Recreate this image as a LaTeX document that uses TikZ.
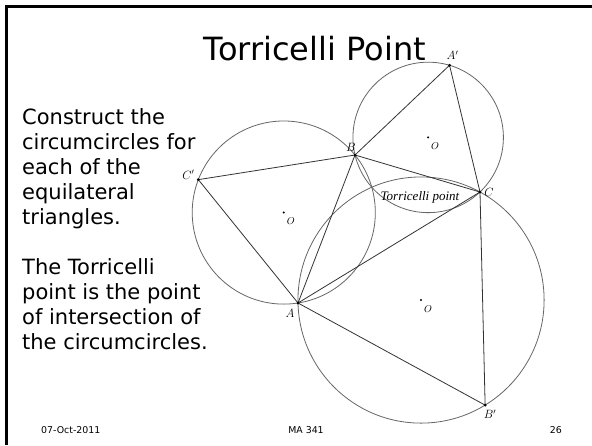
\documentclass[tikz,border=0pt]{standalone}
\usepackage{fontspec}
\setmainfont{DejaVu Sans}
\newfontfamily\labfont{Liberation Serif}
\usetikzlibrary{calc,through}
\begin{document}
\begin{tikzpicture}[x=1pt,y=-1pt,
  tri/.style={draw=black!80, line width=0.8pt},
  circ/.style={draw=black!60, line width=0.8pt, circle through=#1, inner sep=0pt, outer sep=0pt},
  dot/.style={circle, fill=black, inner sep=0pt, minimum size=3pt},
  odot/.style={circle, fill=black, inner sep=0pt, minimum size=2.2pt},
  lab/.style={font=\fontsize{12}{12}\selectfont, inner sep=0pt},
  olab/.style={font=\fontsize{10}{10}\selectfont, inner sep=0pt},
  body/.style={anchor=base west, font=\fontsize{21}{21}\selectfont, inner sep=0pt},
  foot/.style={font=\fontsize{9.4}{9.4}\selectfont, inner sep=0pt}]
\useasboundingbox (0,0) rectangle (592,445);
\fill[white] (0,0) rectangle (592,445);
\draw[line width=2.5pt] (6.5,445) -- (6.5,6.5) -- (592,6.5);

% triangle ABC and equilateral points
\coordinate (A) at (298,303);
\coordinate (B) at (355,155);
\coordinate (C) at (480,192);
\coordinate (Ap) at ($(B)!1!60:(C)$);
\coordinate (Bp) at ($(C)!1!60:(A)$);
\coordinate (Cp) at ($(A)!1!60:(B)$);
\coordinate (O1) at (barycentric cs:B=1,C=1,Ap=1);
\coordinate (O2) at (barycentric cs:A=1,B=1,Cp=1);
\coordinate (O3) at (barycentric cs:A=1,C=1,Bp=1);

% circumcircles
\node[circ=(B)] (c1) at (O1) {};
\node[circ=(A)] (c2) at (O2) {};
\node[circ=(A)] (c3) at (O3) {};

% triangles
\draw[tri] (Cp) -- (B) -- (Ap) -- (C) -- (Bp) -- (A) -- cycle;
\draw[tri] (A) -- (B) -- (C) -- cycle;

% dots
\foreach \p in {A,B,C,Ap,Bp,Cp} \node[dot] (d\p) at (\p) {};
\foreach \p in {O1,O2,O3} \node[odot] (d\p) at (\p) {};

% labels
\node[lab] (lA) at ($(A)+(-8,10)$) {$A$};
\node[lab] (lB) at ($(B)+(-4,-8)$) {$B$};
\node[lab] (lC) at ($(C)+(9,0)$) {$C$};
\node[lab] (lAp) at ($(Ap)+(3,-10)$) {$A'$};
\node[lab] (lBp) at ($(Bp)+(5,9)$) {$B'$};
\node[lab] (lCp) at ($(Cp)+(-10,-5)$) {$C'$};
\node[olab] (lO1) at ($(O1)+(7,9)$) {$O$};
\node[olab] (lO2) at ($(O2)+(7,9)$) {$O$};
\node[olab] (lO3) at ($(O3)+(7,9)$) {$O$};
\node[font=\labfont\itshape\fontsize{13}{13}\selectfont, inner sep=0pt] (tp) at (420,197) {Torricelli point};

% title
\node[anchor=base east, font=\fontsize{32}{32}\selectfont, inner sep=0pt] (title) at (426,60) {Torricelli Point};

% body text
\node[body] (t1) at (22,124) {Construct the};
\node[body] (t2) at (22,149) {circumcircles for};
\node[body] (t3) at (22,174) {each of the};
\node[body] (t4) at (22,199) {equilateral};
\node[body] (t5) at (22,224) {triangles.};
\node[body] (t6) at (22,274) {The Torricelli};
\node[body] (t7) at (22,299) {point is the point};
\node[body] (t8) at (22,324) {of intersection of};
\node[body] (t9) at (22,349) {the circumcircles.};

% footer
\node[foot, anchor=west] (f1) at (41,430) {07-Oct-2011};
\node[foot] (f2) at (306,430) {MA 341};
\node[foot, anchor=east] (f3) at (562,430) {26};
\end{tikzpicture}
\end{document}
